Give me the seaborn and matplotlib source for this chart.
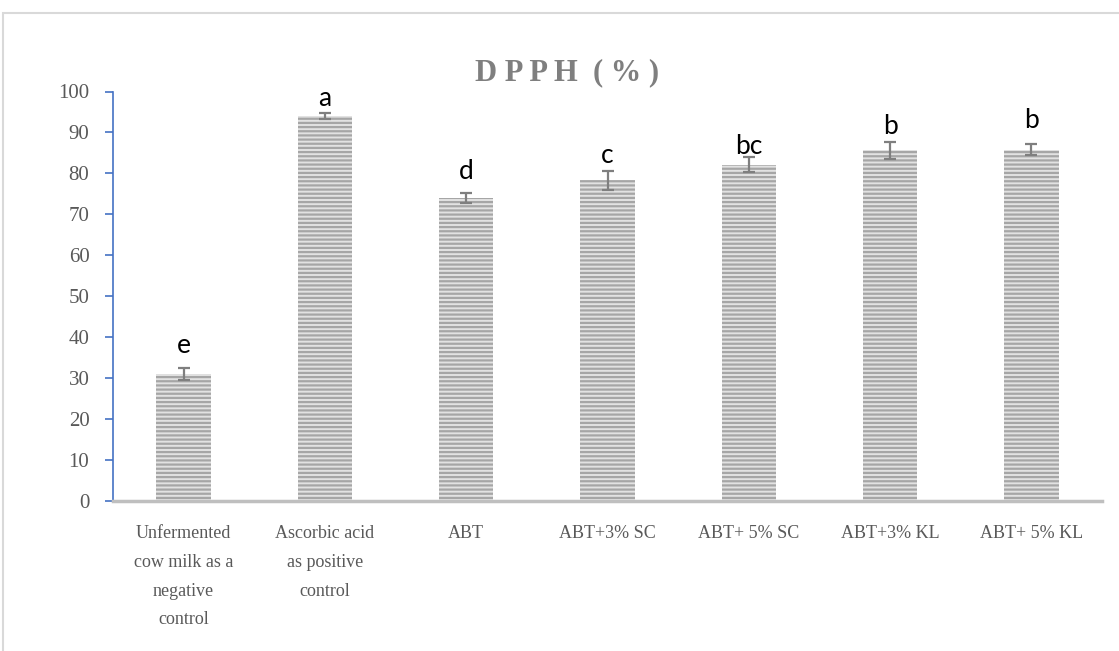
import matplotlib
matplotlib.use("Agg")
import matplotlib.pyplot as plt
import seaborn as sns
import pandas as pd
from matplotlib.patches import Rectangle

categories = ["Unfermented\ncow milk as a\nnegative\ncontrol", "Ascorbic acid\nas positive\ncontrol",
              "ABT", "ABT+3% SC", "ABT+ 5% SC", "ABT+3% KL", "ABT+ 5% KL"]
values = [31.0, 94.0, 74.0, 78.3, 82.1, 85.6, 85.8]
errors = [1.4, 0.8, 1.3, 2.35, 1.85, 2.0, 1.3]
letters = ["e", "a", "d", "c", "bc", "b", "b"]
letter_y = [36.1, 96.4, 78.6, 82.6, 84.7, 89.5, 91.2]

sns.set_style("white")
plt.rcParams['hatch.linewidth'] = 1.6
plt.rcParams['hatch.color'] = '#a6a6a6'

fig = plt.figure(figsize=(11.19, 6.51), dpi=100)
ax = fig.add_axes([113/1119, 1-501/651, (1102-113)/1119, (501-91.5)/651])

df = pd.DataFrame({"cat": categories, "val": values})
sns.barplot(data=df, x="cat", y="val", ax=ax, color="#e2e2e2", width=0.385, errorbar=None,
            saturation=1)
for p in ax.patches:
    p.set_hatch("----")
    p.set_edgecolor("#a6a6a6")
    p.set_linewidth(0)

xs = list(range(len(categories)))
ax.errorbar(xs, values, yerr=errors, fmt="none", ecolor="#7f7f7f", elinewidth=1.6,
            capsize=4.5, capthick=1.6)

for x, ly, l in zip(xs, letter_y, letters):
    ax.text(x, ly, l, ha="center", va="baseline", fontsize=19, family="Lato", color="black")

ax.set_ylim(0, 100)
ax.set_xlim(-0.5, 6.5)
ax.set_yticks(range(0, 101, 10))
ax.set_xlabel("")
ax.set_ylabel("")
for s in ["top", "right"]:
    ax.spines[s].set_visible(False)
ax.spines["left"].set_color("#4472c4")
ax.spines["left"].set_linewidth(1.2)
ax.spines["bottom"].set_color("#bfbfbf")
ax.spines["bottom"].set_linewidth(2.5)
ax.tick_params(axis="y", left=True, length=6, width=1.2, color="#4472c4", labelsize=15,
               labelcolor="#595959", pad=11)
ax.tick_params(axis="x", bottom=False, labelsize=13, labelcolor="#595959", pad=14)
for lab in ax.get_yticklabels() + ax.get_xticklabels():
    lab.set_family("Liberation Serif")
for lab in ax.get_xticklabels():
    lab.set_linespacing(1.9)

fig.text(567/1119, 1-73/651, "D P P H  ( % )", ha="center", va="center", fontsize=22,
         fontweight="bold", family="Liberation Serif", color="#7f7f7f")

fig.patches.append(Rectangle((3/1119, -0.1), 1.1, 1.1-13/651, transform=fig.transFigure,
                             fill=False, edgecolor="#d9d9d9", linewidth=1.5))

fig.savefig("out.png", dpi=100)
